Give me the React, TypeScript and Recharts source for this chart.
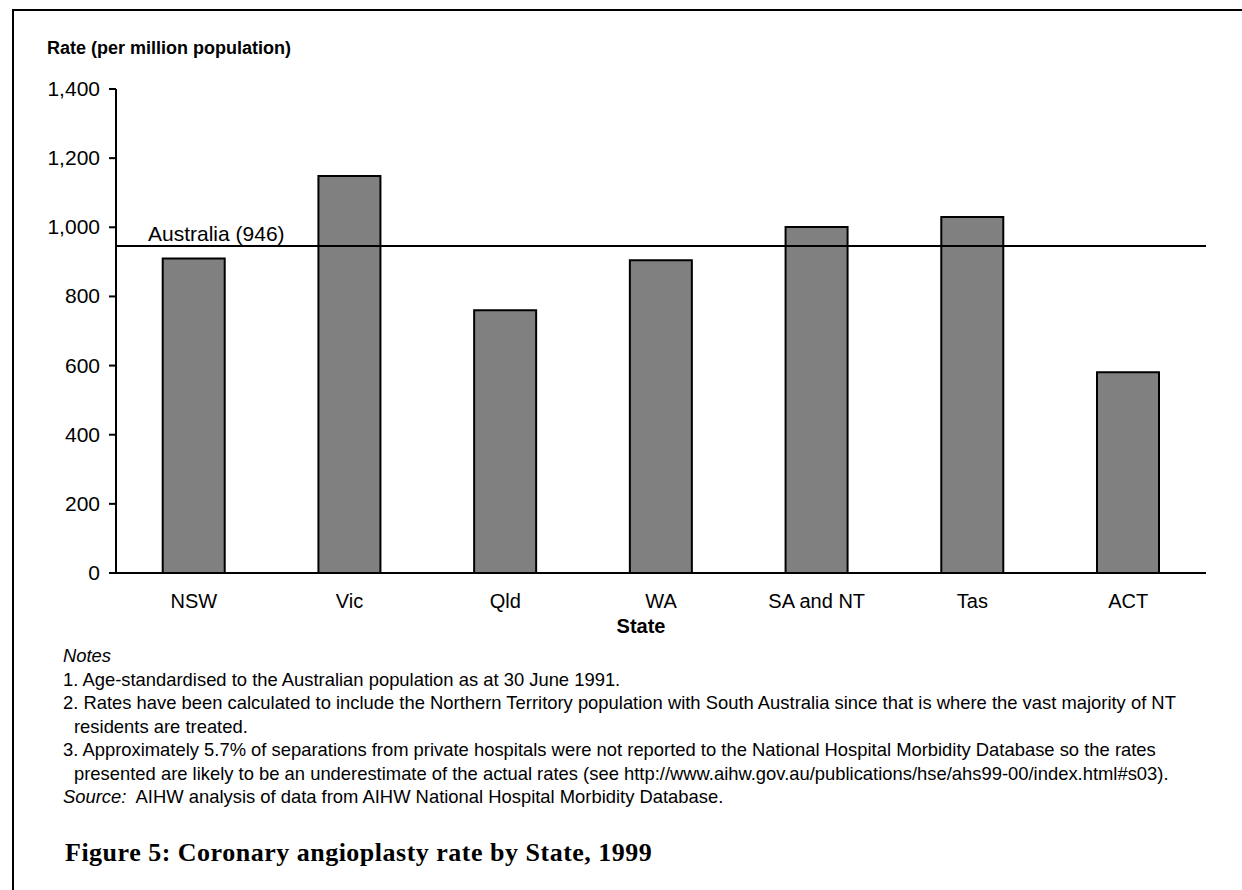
import React from "react";
import { Bar, BarChart, ReferenceLine, XAxis, YAxis } from "recharts";

const states = ["NSW", "Vic", "Qld", "WA", "SA and NT", "Tas", "ACT"];
const rates = [910, 1148, 760, 905, 1001, 1030, 581];
const australiaRate = 946;
const yTicks = [0, 200, 400, 600, 800, 1000, 1200, 1400];

const notes = [
  ["1. Age-standardised to the Australian population as at 30 June 1991."],
  [
    "2. Rates have been calculated to include the Northern Territory population with South Australia since that is where the vast majority of NT",
    "residents are treated.",
  ],
  [
    "3. Approximately 5.7% of separations from private hospitals were not reported to the National Hospital Morbidity Database so the rates",
    "presented are likely to be an underestimate of the actual rates (see http://www.aihw.gov.au/publications/hse/ahs99-00/index.html#s03).",
  ],
];

const sans = '"Liberation Sans", Arial, sans-serif';
const chartData = states.map((state, i) => ({ state, rate: rates[i] }));

function YTick({ x, y, payload }: any) {
  return (
    <text x={x} y={y} dy={7} textAnchor="end" fontSize={21} fontFamily={sans} fill="#000">
      {Number(payload.value).toLocaleString("en-US")}
    </text>
  );
}

function XTick({ x, y, payload }: any) {
  return (
    <text x={x} y={y} dy={35} textAnchor="middle" fontSize={20} fontFamily={sans} fill="#000">
      {payload.value}
    </text>
  );
}

function AverageLabel({ viewBox }: any) {
  if (!viewBox) return null;
  return (
    <text x={viewBox.x + 32} y={viewBox.y - 5} fontSize={21} fontFamily={sans} fill="#000">
      Australia ({australiaRate})
    </text>
  );
}

export default function App() {
  return (
    <div
      style={{
        position: "absolute",
        left: 0,
        top: 0,
        width: 1242,
        height: 890,
        overflow: "hidden",
        background: "#fff",
        fontFamily: sans,
        color: "#000",
      }}
    >
      <style>{"html, body { margin: 0; overflow: hidden; }"}</style>
      {/* frame: only top and left edges show */}
      <div style={{ position: "absolute", left: 12, top: 9, width: 1230, height: 2, background: "#000" }} />
      <div style={{ position: "absolute", left: 12, top: 9, width: 2, height: 881, background: "#000" }} />
      <div
        style={{
          position: "absolute",
          left: 47,
          top: 38,
          fontSize: 18,
          lineHeight: "20px",
          fontWeight: 700,
          whiteSpace: "nowrap",
        }}
      >
        Rate (per million population)
      </div>
      <div style={{ position: "absolute", left: 0, top: 0 }}>
        <BarChart
          width={1242}
          height={660}
          data={chartData}
          margin={{ top: 89, right: 36, bottom: 57, left: 56 }}
          barCategoryGap="30%"
        >
          <XAxis
            dataKey="state"
            height={30}
            axisLine={{ stroke: "#000", strokeWidth: 2 }}
            tickLine={false}
            tickSize={0}
            tickMargin={0}
            tick={<XTick />}
            interval={0}
          />
          <YAxis
            width={60}
            domain={[0, 1400]}
            ticks={yTicks}
            interval={0}
            axisLine={{ stroke: "#000", strokeWidth: 2 }}
            tickLine={{ stroke: "#000", strokeWidth: 2 }}
            tickSize={7}
            tickMargin={9}
            tick={<YTick />}
          />
          <Bar
            dataKey="rate"
            fill="#808080"
            stroke="#000"
            strokeWidth={2}
            isAnimationActive={false}
          />
          <ReferenceLine
            y={australiaRate}
            stroke="#000"
            strokeWidth={2}
            label={<AverageLabel />}
          />
        </BarChart>
      </div>
      <div
        style={{
          position: "absolute",
          left: 641,
          top: 616,
          transform: "translateX(-50%)",
          fontSize: 20,
          lineHeight: "20px",
          fontWeight: 700,
        }}
      >
        State
      </div>
      <div
        style={{
          position: "absolute",
          left: 63,
          top: 644,
          fontSize: 18.4,
          lineHeight: "23.5px",
          whiteSpace: "nowrap",
        }}
      >
        <div style={{ fontStyle: "italic" }}>Notes</div>
        {notes.map((lines, i) => (
          <div key={i}>
            {lines.map((line, j) => (
              <div key={j} style={{ paddingLeft: j > 0 ? 11 : 0 }}>
                {line}
              </div>
            ))}
          </div>
        ))}
        <div>
          <span style={{ fontStyle: "italic" }}>Source:</span>&nbsp; AIHW analysis of data from AIHW
          National Hospital Morbidity Database.
        </div>
      </div>
      <div
        style={{
          position: "absolute",
          left: 65,
          top: 838,
          fontFamily: '"Liberation Serif", "Times New Roman", serif',
          fontSize: 26,
          lineHeight: "30px",
          fontWeight: 700,
          letterSpacing: 0.5,
          whiteSpace: "nowrap",
        }}
      >
        Figure 5: Coronary angioplasty rate by State, 1999
      </div>
    </div>
  );
}
